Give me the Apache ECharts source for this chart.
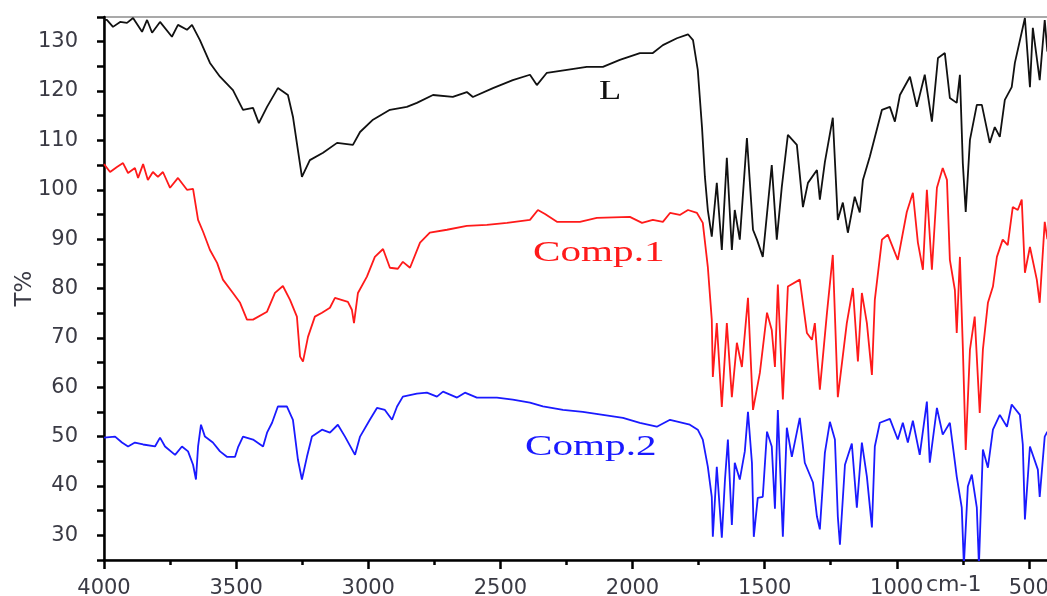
<!DOCTYPE html>
<html><head><meta charset="utf-8">
<script src="https://cdn.jsdelivr.net/npm/echarts@6/dist/echarts.min.js"></script>
<style>html,body{margin:0;padding:0;background:#fff}#c{width:1047px;height:596px}</style>
</head><body><div id="c"></div>
<script>
// x tick labels (wavenumber, cm-1) and y tick labels (T%)
const xTickValues = [4000, 3500, 3000, 2500, 2000, 1500, 1000, 500];
const yTickValues = [30, 40, 50, 60, 70, 80, 90, 100, 110, 120, 130];
const seriesNames = ['L', 'Comp.1', 'Comp.2'];

// [wavenumber, T%]
const dataL = [[4000,134.4],[3989,134.4],[3966,133],[3939,134],[3913,133.8],[3890,134.8],[3856,132],[3837,134.4],[3818,131.8],[3788,134],[3743,131],[3720,133.4],[3686,132.4],[3667,133.4],[3637,130.3],[3599,125.7],[3561,122.9],[3512,120.2],[3474,116.2],[3436,116.6],[3414,113.5],[3383,116.8],[3342,120.6],[3304,119.2],[3285,114.8],[3266,108],[3251,102.6],[3221,106],[3171,107.5],[3118,109.5],[3058,109.1],[3031,111.7],[2982,114.2],[2918,116.2],[2854,116.8],[2816,117.6],[2755,119.2],[2680,118.8],[2627,119.8],[2604,118.8],[2528,120.6],[2453,122.2],[2388,123.3],[2362,121.2],[2324,123.7],[2248,124.3],[2173,124.9],[2112,124.9],[2048,126.3],[1972,127.7],[1923,127.7],[1885,129.3],[1832,130.7],[1790,131.5],[1771,130.3],[1753,124.3],[1737,112.7],[1726,102.6],[1715,95.9],[1700,90.5],[1681,101.4],[1662,87.8],[1643,106.5],[1624,87.8],[1613,95.9],[1594,89.9],[1567,110.5],[1544,91.9],[1529,89.9],[1507,86.4],[1473,105],[1454,89.9],[1435,100.6],[1412,111.1],[1378,109.1],[1355,96.5],[1336,101.4],[1302,104],[1291,98],[1272,105.6],[1242,114.6],[1223,93.9],[1204,97.4],[1185,91.3],[1159,98.6],[1140,95.4],[1128,102],[1102,106.7],[1056,116.2],[1026,116.8],[1007,113.8],[988,119.2],[950,122.9],[924,116.8],[894,123.3],[867,113.8],[844,126.7],[818,127.7],[799,118.6],[773,117.6],[761,123.3],[750,105.4],[739,95.5],[723,110.1],[697,117.2],[678,117.2],[648,109.5],[629,112.7],[610,110.7],[591,118.2],[565,120.8],[553,125.7],[515,134.8],[496,120.8],[485,132.8],[459,122.2],[440,134.4],[430,128]];

const dataComp1 = [[4000,105.2],[3977,103.6],[3951,104.6],[3928,105.4],[3909,103.4],[3883,104.4],[3871,102.4],[3852,105.2],[3834,102],[3815,103.6],[3796,102.6],[3777,103.6],[3750,100.4],[3720,102.4],[3686,100],[3663,100.2],[3644,93.9],[3625,91.5],[3599,87.8],[3572,85.2],[3550,81.8],[3512,79.1],[3485,77.1],[3459,73.7],[3436,73.7],[3383,75.3],[3353,79.1],[3323,80.5],[3296,77.7],[3270,74.3],[3258,66.2],[3247,65.2],[3228,70.2],[3202,74.3],[3175,75.1],[3145,76.1],[3126,78.1],[3077,77.3],[3062,75.7],[3054,73],[3039,79.1],[3005,82.4],[2975,86.4],[2944,88],[2918,84.2],[2888,84],[2869,85.4],[2842,84.2],[2804,89.3],[2767,91.3],[2702,91.9],[2627,92.7],[2551,92.9],[2475,93.3],[2388,93.9],[2358,95.9],[2331,95.1],[2286,93.5],[2199,93.5],[2135,94.3],[2010,94.5],[1964,93.3],[1923,93.9],[1885,93.5],[1858,95.3],[1821,94.9],[1790,95.9],[1756,95.3],[1734,93.3],[1715,84.4],[1700,73.7],[1696,62.1],[1681,73],[1662,56],[1643,73],[1624,58],[1605,69],[1586,64.1],[1563,78.1],[1544,55.4],[1518,62.9],[1491,75.1],[1473,71.6],[1461,64.1],[1450,80.8],[1431,57.5],[1412,80.4],[1367,81.8],[1340,71],[1321,69.6],[1310,73],[1291,59.5],[1264,75.1],[1242,86.8],[1223,58],[1189,73],[1166,80.1],[1147,65.2],[1132,79.1],[1113,73],[1094,62.5],[1083,77.7],[1056,89.9],[1034,90.9],[996,85.8],[962,95.5],[939,99.4],[920,89.3],[901,83.8],[886,100],[867,83.8],[848,100.4],[826,104.4],[810,102],[799,85.8],[780,79.7],[773,71],[761,86.4],[750,68.2],[739,47.3],[723,67.6],[705,74.3],[686,54.8],[674,67.6],[655,77.1],[636,80.4],[621,86.4],[599,89.9],[580,88.8],[561,96.5],[542,95.9],[527,98],[515,83.2],[496,88.4],[470,81.8],[459,77.1],[440,93.5],[430,90]];

const dataComp2 = [[4000,49.8],[3996,49.8],[3958,50],[3932,48.8],[3909,48],[3883,48.8],[3852,48.4],[3807,48],[3788,49.8],[3769,48],[3731,46.3],[3705,48],[3682,47],[3663,44.3],[3652,41.3],[3644,48],[3633,52.4],[3618,50],[3588,48.8],[3561,47],[3535,45.9],[3504,45.9],[3493,47.8],[3474,50],[3436,49.4],[3398,48],[3383,50.8],[3364,52.8],[3342,56.1],[3308,56.1],[3285,53.4],[3266,45.3],[3251,41.3],[3232,45.9],[3213,50],[3175,51.4],[3145,50.8],[3115,52.4],[3088,50],[3050,46.3],[3031,50],[2994,53.4],[2967,55.8],[2937,55.4],[2910,53.4],[2891,56.1],[2869,58.1],[2816,58.7],[2778,58.9],[2740,58.1],[2717,59.1],[2664,57.9],[2634,58.9],[2589,57.9],[2513,57.9],[2453,57.5],[2388,56.9],[2339,56.1],[2263,55.4],[2188,55],[2112,54.4],[2036,53.8],[1972,52.8],[1908,52],[1858,53.4],[1783,52.4],[1753,51.4],[1734,49.4],[1715,43.9],[1700,37.8],[1696,29.7],[1681,43.9],[1662,29.5],[1650,41.3],[1639,49.4],[1624,32.1],[1613,44.7],[1594,41.3],[1575,47],[1563,55],[1548,44.7],[1541,29.7],[1526,37.6],[1507,37.8],[1491,51],[1473,48],[1461,35.4],[1450,55.4],[1431,29.7],[1416,51.8],[1397,45.9],[1367,53.8],[1348,44.7],[1317,40.7],[1302,33.8],[1291,31.2],[1272,46.7],[1253,53],[1234,49.4],[1223,33.8],[1215,28.1],[1196,44.3],[1170,48.6],[1151,35.6],[1132,48.8],[1113,41.9],[1094,31.6],[1083,48],[1064,52.8],[1026,53.6],[996,49.4],[977,52.8],[958,48.8],[939,53.2],[913,46.3],[886,57.1],[875,44.7],[848,55.8],[826,50.4],[799,52.8],[780,44.9],[773,41.9],[754,35.6],[746,24],[731,39.9],[716,42.3],[697,35.6],[689,24],[674,47.4],[655,43.7],[636,51.4],[610,54.4],[583,52],[565,56.5],[534,54.4],[523,48.4],[515,33.2],[496,48],[466,43.3],[459,37.8],[440,50],[430,51]];

const seriesColors = ['#111111', '#ff1a1a', '#1a1aff'];
const seriesData = [dataL, dataComp1, dataComp2];
const axisTextColor = '#3a3a44';
const labelFont = 'DejaVu Sans';

const chart = echarts.init(document.getElementById('c'), null, {renderer: 'canvas'});
const option = {
  animation: false,
  backgroundColor: '#ffffff',
  grid: {left: 104, right: -114, top: 17, bottom: 36, show: true, borderColor: '#555', borderWidth: 1.2, outerBoundsMode: 'none', containLabel: false},
  xAxis: {
    type: 'value', inverse: true, min: 0, max: 4000, interval: 500,
    axisLine: {show: true, onZero: false, lineStyle: {color: '#000', width: 2.5}},
    axisTick: {show: true, length: 9, lineStyle: {color: '#000', width: 2.5}},
    minorTick: {show: true, splitNumber: 2, length: 5, lineStyle: {color: '#000', width: 2.5}},
    axisLabel: {margin: 18, color: axisTextColor, fontFamily: labelFont, fontSize: 21,
      formatter: v => xTickValues.includes(v) ? String(v) : ''},
    splitLine: {show: false}, minorSplitLine: {show: false}
  },
  yAxis: [{
    type: 'value', min: 25, max: 135, interval: 5,
    axisLine: {show: true, onZero: false, lineStyle: {color: '#000', width: 2.5}},
    axisTick: {show: true, length: 7, lineStyle: {color: '#000', width: 2.5}},
    axisLabel: {margin: 26, color: axisTextColor, fontFamily: labelFont, fontSize: 21,
      formatter: v => yTickValues.includes(v) ? String(v) : ''},
    splitLine: {show: false},
    name: 'T%', nameLocation: 'middle', nameRotate: 90, nameGap: 67, nameMoveOverlap: false,
    nameTextStyle: {color: axisTextColor, fontFamily: labelFont, fontSize: 23}
  }, {
    type: 'value', min: 25, max: 135, position: 'left',
    axisLine: {show: false},
    axisTick: {show: true, length: 12, customValues: yTickValues, lineStyle: {color: '#000', width: 2.5}},
    axisLabel: {show: false},
    splitLine: {show: false}
  }],
  series: seriesNames.map((n, i) => ({
    name: n, type: 'line', data: seriesData[i], yAxisIndex: 0,
    showSymbol: false, symbol: 'none', clip: true,
    lineStyle: {color: seriesColors[i], width: 1.8}
  })),
  graphic: [
    {type: 'text', x: 599, y: 92, scaleX: 1.35, style: {text: 'L', fill: '#111', font: '27px "Liberation Serif"', align: 'left', verticalAlign: 'middle'}},
    {type: 'text', x: 533, y: 253, scaleX: 1.42, style: {text: 'Comp.1', fill: '#ff1a1a', font: '29px "Liberation Serif"', align: 'left', verticalAlign: 'middle'}},
    {type: 'text', x: 525, y: 447, scaleX: 1.42, style: {text: 'Comp.2', fill: '#1a1aff', font: '29px "Liberation Serif"', align: 'left', verticalAlign: 'middle'}},
    {type: 'text', x: 926, y: 586, scaleX: 1.05, style: {text: 'cm-1', fill: axisTextColor, font: '21px "DejaVu Sans"', align: 'left', verticalAlign: 'middle'}}
  ]
};
chart.setOption(option);
</script>
</body></html>
